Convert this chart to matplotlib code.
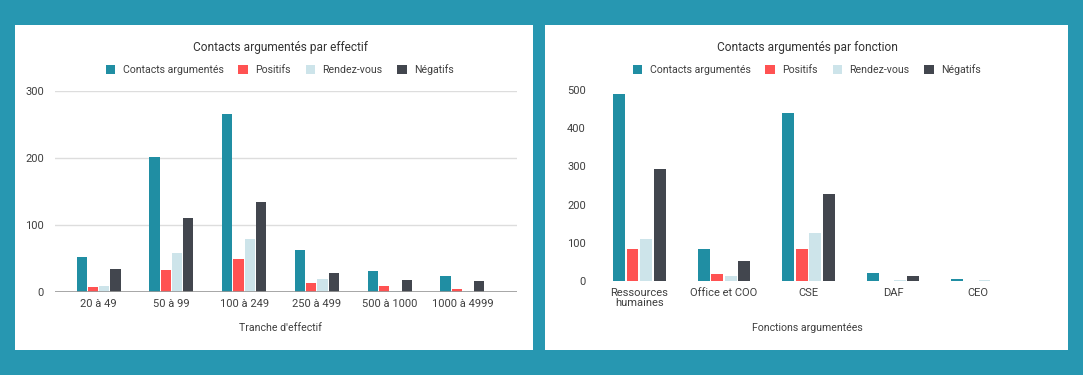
#graphique contacts argumentés : effectif / fonction
import numpy as np
import matplotlib.pyplot as plt
from matplotlib.patches import Rectangle

plt.rcParams['font.family'] = ['Roboto', 'DejaVu Sans']

series = ["Contacts argumentés", "Positifs", "Rendez-vous", "Négatifs"]
colors = ["#208EA3", "#FF5252", "#CDE4EA", "#42464E"]

tranches = ["20 à 49", "50 à 99", "100 à 249", "250 à 499", "500 à 1000", "1000 à 4999"]
eff_contacts = [52, 201, 265, 62, 31, 24]
eff_positifs = [8, 33, 50, 13, 9, 4]
eff_rdv = [9, 58, 79, 19, 2, 2]
eff_negatifs = [34, 110, 135, 29, 18, 16]

fonctions = ["Ressources\nhumaines", "Office et COO", "CSE", "DAF", "CEO"]
fct_contacts = [490, 85, 440, 20, 5]
fct_positifs = [85, 18, 83, 0, 0]
fct_rdv = [110, 14, 126, 2, 2]
fct_negatifs = [292, 52, 228, 14, 0]

fig = plt.figure(figsize=(10.83, 3.75), dpi=100)
fig.patch.set_facecolor("#2797B1")

# panneaux blancs
for x0, x1 in [(15, 533), (545, 1068)]:
    fig.patches.append(Rectangle((x0 / 1083, 1 - 350 / 375), (x1 - x0) / 1083, 325 / 375,
                                 transform=fig.transFigure, facecolor="white",
                                 edgecolor="none", zorder=-5))

txt = "#3F3F3F"

def chart(rect, cats, data, ymax, yticks, title, xlabel, xlim, width, pitch, grid, tcx):
    ax = fig.add_axes(rect)
    ax.set_zorder(2)
    ax.set_facecolor("none")
    x = np.arange(len(cats))
    for i, vals in enumerate(data):
        ax.bar(x + (i - 1.5) * pitch, vals, width, color=colors[i], zorder=3,
               label=series[i])
    ax.set_xlim(*xlim)
    ax.set_ylim(0, ymax)
    ax.set_yticks(yticks)
    ax.set_xticks(x)
    ax.set_xticklabels(cats, fontsize=8, color=txt, linespacing=0.95)
    ax.tick_params(axis="y", labelsize=8, colors=txt, length=0, pad=8)
    ax.tick_params(axis="x", length=0, pad=5)
    for s in ax.spines.values():
        s.set_visible(False)
    if grid:
        ax.grid(axis="y", color="#DDDDDD", lw=1, zorder=0)
        ax.axhline(0, color="#999999", lw=1.2, zorder=4)
    fig.text(tcx / 1083, 1 - 328 / 375, xlabel, ha="center", va="center",
             fontsize=7.6, color=txt)
    fig.text(tcx / 1083, 1 - 47 / 375, title, ha="center", va="center",
             fontsize=8.6, color="#333333")
    h, l = ax.get_legend_handles_labels()
    fig.legend(h, l, loc="center", bbox_to_anchor=(tcx / 1083, 1 - 70 / 375),
               ncol=4, frameon=False, fontsize=7.6, labelcolor=txt,
               handlelength=0.9, handleheight=0.9, handletextpad=0.7,
               columnspacing=1.4)
    return ax

chart([55 / 1083, 1 - 292 / 375, (517 - 55) / 1083, (292 - 91) / 375],
      tranches, [eff_contacts, eff_positifs, eff_rdv, eff_negatifs],
      300, [0, 100, 200, 300], "Contacts argumentés par effectif",
      "Tranche d'effectif", (-0.6, 5.75), 0.14, 0.155, True, 280)

chart([597 / 1083, 1 - 281 / 375, (1020 - 597) / 1083, (281 - 90) / 375],
      fonctions, [fct_contacts, fct_positifs, fct_rdv, fct_negatifs],
      500, [0, 100, 200, 300, 400, 500], "Contacts argumentés par fonction",
      "Fonctions argumentées", (-0.5, 4.5), 0.14, 0.16, False, 807)

fig.savefig("out.png", dpi=100, facecolor=fig.get_facecolor())
